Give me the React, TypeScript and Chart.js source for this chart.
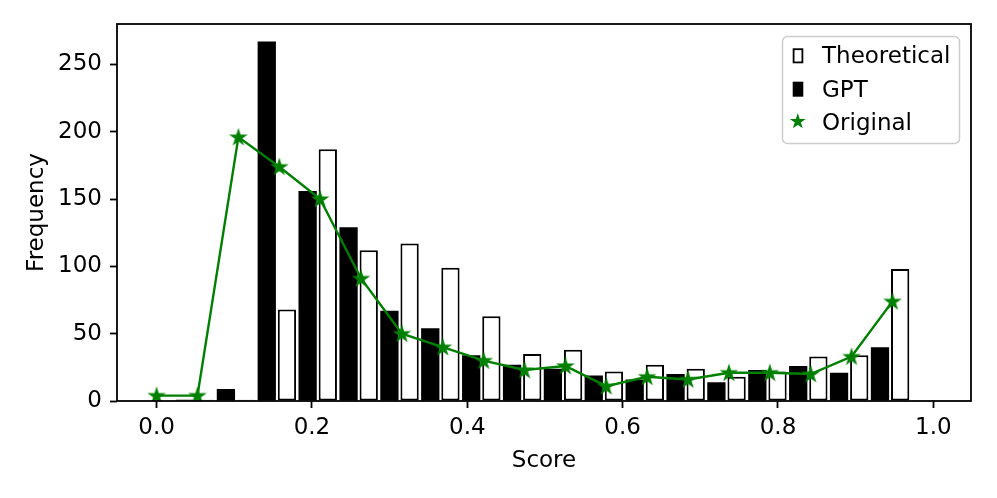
import React, { useEffect, useRef } from 'react';
import { Chart, registerables } from 'chart.js';

Chart.register(...registerables);

// ---- data ----
const binCenters = [0.0, 0.0526, 0.1053, 0.1579, 0.2105, 0.2632, 0.3158, 0.3684, 0.4211, 0.4737, 0.5263, 0.5789, 0.6316, 0.6842, 0.7368, 0.7895, 0.8421, 0.8947, 0.9474];
const gptCounts = [0, 1, 9, 267, 156, 129, 67, 54, 34, 27, 24, 19, 16, 20, 14, 23, 26, 21, 40];
const theoreticalCounts = [0, 1, 1, 68, 187, 112, 117, 99, 63, 35, 38, 22, 27, 24, 18, 22, 33, 34, 98];
const originalCounts = [4, 4, 196, 174, 150, 91, 50, 40, 30, 23, 26, 11, 18, 16, 21, 21, 20, 33, 74];
const xTickValues = [0, 0.2, 0.4, 0.6, 0.8, 1.0];
const yTickValues = [0, 50, 100, 150, 200, 250];
const seriesNames = ['Theoretical', 'GPT', 'Original'];
const xTitle = 'Score';
const yTitle = 'Frequency';

const GREEN = '#008000';
const FONT_FAMILY = '"DejaVu Sans", sans-serif';
const FONT_SIZE = 23;
const BAR_SHIFT_PX = -2.4;

function drawStarPath(ctx: CanvasRenderingContext2D, cx: number, cy: number, r: number) {
  ctx.beginPath();
  for (let k = 0; k < 10; k++) {
    const rad = k % 2 === 0 ? r : r * 0.381966;
    const ang = -Math.PI / 2 + (k * Math.PI) / 5;
    const px = cx + rad * Math.cos(ang);
    const py = cy + rad * Math.sin(ang);
    if (k === 0) ctx.moveTo(px, py);
    else ctx.lineTo(px, py);
  }
  ctx.closePath();
}

function drawStar(ctx: CanvasRenderingContext2D, cx: number, cy: number, r: number, color: string, lw: number) {
  ctx.save();
  drawStarPath(ctx, cx, cy, r);
  ctx.fillStyle = color;
  ctx.fill();
  ctx.lineWidth = lw;
  ctx.lineJoin = 'miter';
  ctx.strokeStyle = color;
  ctx.stroke();
  ctx.restore();
}

function makeStarImage(r: number, color: string): HTMLCanvasElement {
  const size = Math.ceil(r * 2 + 8);
  const c = document.createElement('canvas');
  c.width = size;
  c.height = size;
  const ctx = c.getContext('2d');
  if (ctx) drawStar(ctx, size / 2, size / 2 + 0.6, r, color, 1.7);
  return c;
}

const overlayPlugin = {
  id: 'overlayPlugin',
  beforeDatasetDraw(chart: any, args: any) {
    const ds = chart.data.datasets[args.index];
    if (ds.type === 'bar') {
      chart.ctx.save();
      chart.ctx.translate(BAR_SHIFT_PX, 0);
    }
  },
  afterDatasetDraw(chart: any, args: any) {
    const ds = chart.data.datasets[args.index];
    if (ds.type === 'bar') {
      chart.ctx.restore();
    }
  },
  afterDatasetsDraw(chart: any) {
    const { ctx, chartArea: a } = chart;
    ctx.save();
    ctx.strokeStyle = '#000';
    ctx.lineWidth = 1.8;
    ctx.strokeRect(a.left, a.top, a.right - a.left, a.bottom - a.top);
    ctx.restore();
  },
  afterDraw(chart: any) {
    const { ctx, chartArea: a } = chart;
    ctx.save();
    ctx.font = `${FONT_SIZE}px ${FONT_FAMILY}`;
    ctx.fillStyle = '#000';
    ctx.textBaseline = 'alphabetic';
    ctx.textAlign = 'center';
    ctx.fillText(xTitle, (a.left + a.right) / 2, 466.5);
    ctx.save();
    ctx.translate(43, (a.top + a.bottom) / 2);
    ctx.rotate(-Math.PI / 2);
    ctx.fillText(yTitle, 0, 0);
    ctx.restore();

    // legend
    const bx = 782.5, by = 36.5, bw = 177, bh = 107;
    ctx.beginPath();
    (ctx as any).roundRect(bx, by, bw, bh, 5);
    ctx.fillStyle = 'rgba(255,255,255,0.8)';
    ctx.fill();
    ctx.strokeStyle = '#cccccc';
    ctx.lineWidth = 1.5;
    ctx.stroke();

    const baselines = [63.3, 96.7, 130];
    // Theoretical marker
    ctx.fillStyle = '#fff';
    ctx.fillRect(793.6, 49.2, 8.8, 13.2);
    ctx.strokeStyle = '#000';
    ctx.lineWidth = 1.8;
    ctx.strokeRect(793.6, 49.2, 8.8, 13.2);
    // GPT marker
    ctx.fillStyle = '#000';
    ctx.fillRect(792.7, 81.7, 10.6, 15);
    // Original marker
    drawStar(ctx, 797.8, 121.5, 6.0, GREEN, 1.5);

    ctx.fillStyle = '#000';
    ctx.textAlign = 'left';
    seriesNames.forEach((name, i) => {
      ctx.fillText(name, 822, baselines[i]);
    });
    ctx.restore();
  },
};

export default function App() {
  const canvasRef = useRef<HTMLCanvasElement | null>(null);

  useEffect(() => {
    if (!canvasRef.current) return;
    const starImg = makeStarImage(7, GREEN);
    const tickFont = { family: FONT_FAMILY, size: FONT_SIZE };
    const chart = new Chart(canvasRef.current, {
      type: 'bar',
      data: {
        datasets: [
          {
            type: 'line',
            label: seriesNames[2],
            data: binCenters.map((x, i) => ({ x, y: originalCounts[i] })),
            borderColor: GREEN,
            backgroundColor: GREEN,
            borderWidth: 2.4,
            pointStyle: starImg as any,
            pointRadius: 7,
            tension: 0,
            order: 0,
          } as any,
          {
            type: 'bar',
            label: seriesNames[1],
            data: binCenters.map((x, i) => ({ x, y: gptCounts[i] })),
            backgroundColor: '#000',
            borderWidth: 0,
            categoryPercentage: 0.988,
            barPercentage: 0.906,
            order: 1,
          } as any,
          {
            type: 'bar',
            label: seriesNames[0],
            data: binCenters.map((x, i) => ({ x, y: theoreticalCounts[i] })),
            backgroundColor: '#fff',
            borderColor: '#000',
            borderWidth: 2,
            borderSkipped: false,
            categoryPercentage: 0.988,
            barPercentage: 0.906,
            order: 1,
          } as any,
        ],
      },
      options: {
        animation: false,
        responsive: true,
        maintainAspectRatio: false,
        layout: { padding: { left: 0, top: 24, right: 26, bottom: 0 } },
        plugins: {
          legend: { display: false },
          tooltip: { enabled: false },
        },
        scales: {
          x: {
            type: 'linear',
            min: -0.051,
            max: 1.0485,
            offset: false,
            grid: {
              display: true,
              offset: false,
              drawOnChartArea: false,
              drawTicks: true,
              tickLength: 7,
              tickWidth: 1.8,
              tickColor: '#000',
            },
            border: { display: false },
            ticks: {
              font: tickFont,
              color: '#000',
              padding: 6,
              maxRotation: 0,
              autoSkip: false,
              callback: (v: any) => Number(v).toFixed(1),
            },
            afterBuildTicks: (scale: any) => {
              scale.ticks = xTickValues.map((value) => ({ value }));
            },
            afterFit: (scale: any) => {
              scale.height = 97;
            },
          },
          y: {
            type: 'linear',
            min: 0,
            max: 280,
            grid: {
              display: true,
              drawOnChartArea: false,
              drawTicks: true,
              tickLength: 7,
              tickWidth: 1.8,
              tickColor: '#000',
            },
            border: { display: false },
            ticks: {
              font: tickFont,
              color: '#000',
              padding: 8,
              autoSkip: false,
              callback: (v: any) => String(v),
            },
            afterBuildTicks: (scale: any) => {
              scale.ticks = yTickValues.map((value) => ({ value }));
            },
            afterFit: (scale: any) => {
              scale.width = 117;
            },
          },
        },
      } as any,
      plugins: [overlayPlugin],
    });
    return () => chart.destroy();
  }, []);

  return (
    <div style={{ position: 'fixed', left: 0, top: 0, width: 997, height: 498, background: '#fff' }}>
      <canvas ref={canvasRef} />
    </div>
  );
}
